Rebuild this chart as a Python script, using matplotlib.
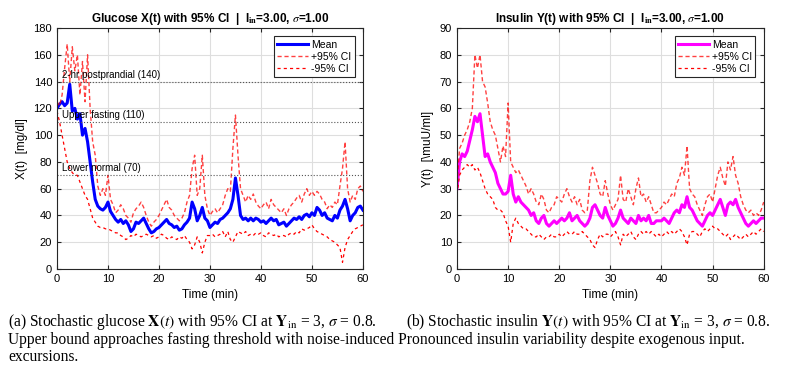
import matplotlib

matplotlib.use("Agg")
import matplotlib.pyplot as plt  # noqa: E402
import numpy as np  # noqa: E402

plt.rcParams["font.family"] = ["Liberation Sans", "DejaVu Sans"]
plt.rcParams["mathtext.fontset"] = "stix"

# time grid (min), 0.5 min steps
time_min = np.arange(0, 60.5, 0.5)

glucose_mean = [
    120, 123, 125, 122, 124, 138, 118, 120, 112, 116, 100, 105, 95, 80, 65, 52, 47, 45, 44, 46,
    50, 43, 40, 37, 35, 37, 34, 36, 33, 28, 30, 35, 34, 36, 38, 34, 30, 27, 28, 30,
    31, 33, 35, 37, 34, 33, 31, 32, 29, 30, 33, 35, 38, 50, 45, 36, 40, 46, 38, 36,
    31, 33, 35, 34, 37, 38, 40, 42, 45, 52, 68, 55, 40, 37, 38, 36, 38, 36, 38, 37,
    35, 36, 34, 36, 38, 36, 37, 33, 34, 35, 32, 34, 36, 38, 37, 39, 37, 40, 41, 39,
    42, 40, 46, 44, 40, 42, 38, 37, 36, 40, 38, 44, 47, 52, 45, 36, 40, 42, 46, 47, 44,
]
glucose_upper = [
    125, 122, 130, 150, 168, 140, 166, 148, 160, 130, 155, 125, 160, 120, 95, 85, 62, 55, 60, 55,
    70, 52, 48, 42, 44, 48, 45, 40, 38, 35, 42, 45, 47, 50, 46, 40, 35, 32, 35, 37,
    40, 44, 48, 52, 46, 44, 40, 38, 36, 38, 42, 50, 55, 75, 85, 55, 60, 85, 55, 45,
    40, 43, 45, 42, 45, 48, 55, 60, 58, 90, 115, 85, 60, 55, 50, 55, 52, 56, 50, 47,
    45, 48, 50, 45, 52, 48, 46, 44, 42, 45, 40, 45, 48, 50, 53, 55, 50, 56, 60, 55,
    58, 55, 58, 56, 52, 50, 45, 48, 46, 50, 48, 62, 75, 95, 60, 50, 55, 52, 60, 62, 58,
]
glucose_lower = [
    118, 110, 100, 90, 80, 75, 72, 70, 70, 65, 60, 55, 52, 45, 38, 35, 32, 31, 31, 30,
    30, 29, 28, 27, 27, 25, 24, 22, 23, 25, 24, 26, 25, 24, 25, 26, 25, 24, 25, 23,
    24, 26, 25, 23, 22, 24, 23, 22, 24, 23, 25, 22, 20, 15, 18, 24, 20, 12, 20, 25,
    25, 26, 24, 25, 26, 28, 24, 28, 22, 20, 24, 28, 27, 26, 28, 25, 26, 25, 27, 26,
    27, 25, 24, 27, 26, 25, 26, 24, 25, 25, 24, 26, 27, 26, 28, 27, 30, 29, 30, 31,
    33, 30, 28, 27, 26, 25, 24, 22, 21, 20, 18, 16, 5, 16, 22, 25, 28, 30, 31, 32, 33,
]

insulin_mean = [
    30, 40, 43, 42, 44, 48, 52, 57, 55, 58, 50, 42, 43, 40, 38, 36, 32, 30, 28, 28,
    29, 35, 28, 25, 27, 25, 24, 23, 22, 20, 21, 18, 17, 19, 20, 17, 16, 17, 18, 17,
    18, 19, 18, 19, 21, 18, 19, 20, 18, 17, 16, 17, 19, 23, 24, 22, 20, 19, 23, 20,
    18, 16, 17, 19, 22, 19, 18, 17, 19, 18, 17, 20, 18, 19, 18, 20, 17, 17, 18, 18,
    18, 19, 18, 17, 19, 21, 22, 21, 24, 23, 27, 23, 22, 20, 18, 17, 16, 18, 20, 21,
    20, 22, 24, 26, 23, 20, 24, 25, 24, 26, 23, 21, 19, 17, 16, 17, 18, 17, 18, 19, 19,
]
insulin_upper = [
    32, 45, 47, 50, 52, 55, 60, 80, 75, 80, 70, 68, 62, 55, 52, 50, 45, 40, 46, 42,
    62, 40, 38, 36, 37, 35, 33, 31, 28, 30, 28, 25, 24, 28, 26, 22, 21, 23, 24, 27,
    26, 25, 28, 30, 27, 25, 27, 24, 26, 22, 21, 22, 33, 38, 35, 32, 28, 27, 33, 28,
    24, 22, 24, 26, 35, 26, 25, 30, 27, 24, 30, 34, 27, 28, 25, 27, 24, 21, 21, 22,
    23, 25, 24, 26, 28, 27, 32, 34, 38, 35, 46, 30, 28, 27, 24, 22, 20, 24, 27, 28,
    25, 30, 35, 38, 34, 31, 40, 37, 42, 35, 32, 27, 24, 22, 21, 22, 20, 21, 20, 22, 25,
]
insulin_lower = [
    28, 35, 37, 38, 39, 38, 39, 37, 38, 36, 33, 30, 28, 27, 26, 23, 22, 22, 21, 18,
    16, 10, 17, 19, 17, 16, 15, 15, 14, 13, 12, 12, 13, 12, 11, 12, 12, 13, 12, 12,
    13, 12, 13, 14, 13, 13, 14, 13, 13, 14, 13, 12, 11, 9, 8, 11, 13, 12, 13, 13,
    12, 13, 14, 12, 9, 13, 12, 13, 14, 12, 11, 13, 14, 13, 14, 13, 14, 13, 12, 13,
    12, 13, 14, 13, 14, 13, 14, 15, 14, 12, 9, 13, 14, 14, 13, 12, 14, 15, 14, 15,
    16, 15, 15, 14, 13, 12, 13, 11, 12, 13, 12, 11, 12, 13, 12, 13, 14, 13, 14, 15, 14,
]

glucose_refs = [140, 110, 70]
glucose_ref_labels = ["2-hr postprandial (140)", "Upper fasting (110)", "Lower normal (70)"]


def style_axes(ax, ymax, ystep):
    ax.set_xlim(0, 60)
    ax.set_ylim(0, ymax)
    ax.set_xticks(np.arange(0, 61, 10))
    ax.set_yticks(np.arange(0, ymax + 1, ystep))
    ax.grid(True, color="#dedede", linewidth=0.8)
    ax.set_axisbelow(True)
    ax.tick_params(direction="in", top=True, right=True, labelsize=8, length=3, color="#262626")
    for side in ax.spines.values():
        side.set_color("#262626")
        side.set_linewidth(0.8)
    ax.set_xlabel("Time (min)", fontsize=8.5)


def draw_panel(ax, mean, upper, lower, mean_color):
    ax.plot(time_min, mean, color=mean_color, linewidth=2.2, label="Mean")
    ax.plot(time_min, upper, color="red", alpha=0.75, linestyle="--", linewidth=1.0,
            dashes=(3, 2), label="+95% CI")
    ax.plot(time_min, lower, color="red", linestyle="--", linewidth=0.9,
            dashes=(2.5, 2.5), label="-95% CI")
    leg = ax.legend(loc="upper right", fontsize=7.5, fancybox=False, framealpha=1,
                    edgecolor="#262626", borderpad=0.3, labelspacing=0.2,
                    handlelength=3.0, handletextpad=0.3, borderaxespad=0.8)
    leg.get_frame().set_linewidth(0.8)


fig = plt.figure(figsize=(8.05, 3.69), dpi=100)
ax1 = fig.add_axes([0.0708, 0.271, 0.380, 0.653])
ax2 = fig.add_axes([0.5677, 0.271, 0.381, 0.653])

draw_panel(ax1, glucose_mean, glucose_upper, glucose_lower, "blue")
for level, text in zip(glucose_refs, glucose_ref_labels):
    ax1.axhline(level, color="#555555", linestyle=":", linewidth=0.8)
    ax1.text(1.0, level + 1.5, text, fontsize=7, va="bottom", ha="left")
style_axes(ax1, 180, 20)
ax1.set_ylabel("X(t)  [mg/dl]", fontsize=8.5)
ax1.set_title(r"Glucose X(t) with 95% CI  |  I$_{\mathbf{in}}$=3.00, $\sigma$=1.00",
              fontsize=8.5, fontweight="bold", pad=4)

draw_panel(ax2, insulin_mean, insulin_upper, insulin_lower, "magenta")
style_axes(ax2, 90, 10)
ax2.set_ylabel(r"Y(t)  [\muU/ml]", fontsize=8.5)
ax2.set_title(r"Insulin Y(t) with 95% CI  |  I$_{\mathbf{in}}$=3.00, $\sigma$=1.00",
              fontsize=8.5, fontweight="bold", pad=4)

# caption text under both panels
serif = ["Liberation Serif", "DejaVu Serif"]
cap_size = 11.2
cap_a = r"(a) Stochastic glucose $\mathbf{X}(t)$ with 95% CI at $\mathbf{Y}_{\rm in}$ = 3, $\sigma$ = 0.8."
cap_b = r"(b) Stochastic insulin $\mathbf{Y}(t)$ with 95% CI at $\mathbf{Y}_{\rm in}$ = 3, $\sigma$ = 0.8."
fig.text(8 / 805, 1 - 322 / 369, cap_a, fontsize=cap_size, family=serif, va="center", ha="left")
fig.text(406 / 805, 1 - 322 / 369, cap_b, fontsize=cap_size, family=serif, va="center", ha="left")
fig.text(8 / 805, 1 - 340 / 369,
         "Upper bound approaches fasting threshold with noise-induced Pronounced insulin variability despite exogenous input.",
         fontsize=cap_size, family=serif, va="center", ha="left")
fig.text(8 / 805, 1 - 357 / 369, "excursions.", fontsize=cap_size, family=serif, va="center", ha="left")

fig.savefig("out.png", dpi=100)
